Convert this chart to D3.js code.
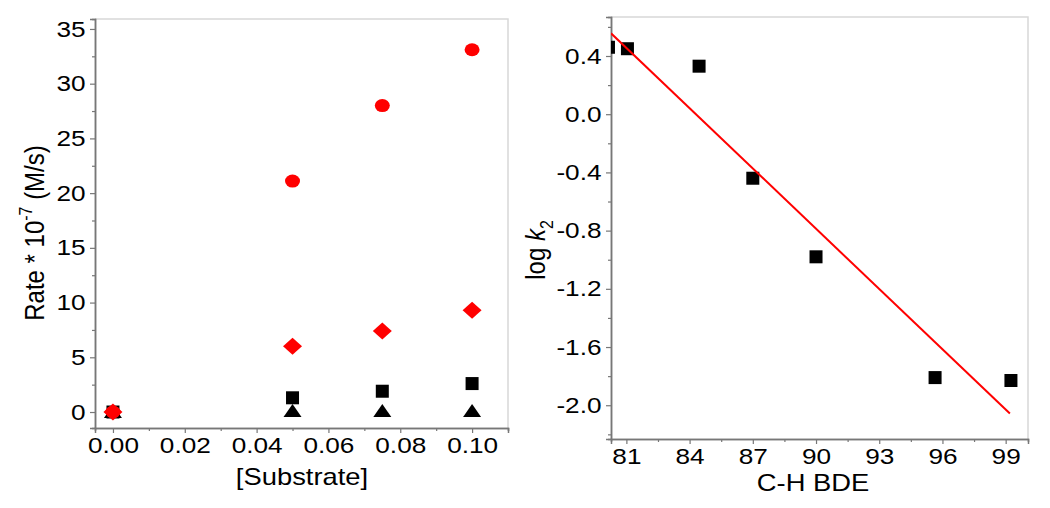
<!DOCTYPE html>
<html>
<head>
<meta charset="utf-8">
<script src="https://cdn.jsdelivr.net/npm/d3@7"></script>
<style>
  body { margin: 0; background: #fff; }
  svg { display: block; font-family: "Liberation Sans", Arial, sans-serif; }
  .tick-label { font-size: 22px; fill: #000; }
  .title { font-size: 23px; fill: #000; }
</style>
</head>
<body>
<div id="chart"></div>
<script>
// Left panel: rate vs [Substrate]
const substrate = [0, 0.05, 0.075, 0.10];
const rateCircle = [0, 21.1, 28.0, 33.1];
const rateDiamond = [0, 6.0, 7.4, 9.3];
const rateSquare = [0, 1.3, 1.9, 2.6];
const rateTriangle = [0, 0.1, 0.1, 0.1];
const leftXTicks = [0, 0.02, 0.04, 0.06, 0.08, 0.10];
const leftYTicks = [0, 5, 10, 15, 20, 25, 30, 35];

// Right panel: log k2 vs C-H BDE
const bde = [80.15, 81.05, 84.45, 87.0, 90.0, 95.65, 99.25];
const logK2 = [0.46, 0.45, 0.33, -0.44, -0.98, -1.81, -1.83];
const fitBde = [80.27, 99.2];
const fitLogK = [0.556, -2.057];
const rightXTicks = [81, 84, 87, 90, 93, 96, 99];
const rightYTicks = [0.4, 0.0, -0.4, -0.8, -1.2, -1.6, -2.0];

const width = 1050, height = 508;
const stretch = 1.19; // text in the picture is a bit wide

const svg = d3.select('#chart').append('svg')
    .attr('width', width)
    .attr('height', height);

// draws the frame, ticks and labels of a panel
function drawFrame(x, y, opts) {
    const [x0, x1] = x.range();
    const [y0, y1] = y.range(); // y0 bottom, y1 top
    const g = svg.append('g');

    // light top/right borders
    g.append('path')
        .attr('d', `M${x0},${y1}H${x1}V${y0}`)
        .attr('fill', 'none')
        .attr('stroke', '#d8d8d8')
        .attr('stroke-width', 1.5);

    const xAxis = d3.axisBottom(x).tickValues(opts.xTicks).tickSize(5).tickFormat(opts.xFormat).tickPadding(4);
    const xMinor = d3.axisBottom(x).tickValues(opts.xMinor).tickSize(3).tickFormat('');
    const yAxis = d3.axisLeft(y).tickValues(opts.yTicks).tickSize(5).tickFormat(opts.yFormat).tickPadding(3);
    const yMinor = d3.axisLeft(y).tickValues(opts.yMinor).tickSize(3).tickFormat('');

    [[xMinor, 'x'], [xAxis, 'x'], [yMinor, 'y'], [yAxis, 'y']].forEach(([ax, d]) => {
        const a = g.append('g')
            .attr('transform', d === 'x' ? `translate(0,${y0})` : `translate(${x0},0)`)
            .call(ax);
        a.select('.domain').attr('stroke', '#777').attr('stroke-width', 1.5);
        a.selectAll('.tick line').attr('stroke', '#777').attr('stroke-width', 1.2);
        a.selectAll('.tick text')
            .attr('class', 'tick-label')
            .attr('transform', `scale(${stretch},1)`)
            .style('font-family', '"Liberation Sans", Arial, sans-serif')
            .attr('fill', '#000');
    });
    return g;
}

// ---------- left panel ----------
const xL = d3.scaleLinear().domain([-0.005, 0.11]).range([95, 508]);
const yL = d3.scaleLinear().domain([-1.46, 35.91]).range([428, 19]);

drawFrame(xL, yL, {
    xTicks: leftXTicks,
    xMinor: d3.range(0.01, 0.111, 0.02),
    xFormat: d3.format('.2f'),
    yTicks: leftYTicks,
    yMinor: d3.range(2.5, 35, 5),
    yFormat: d3.format('d')
});

const left = svg.append('g');
const black = '#000', red = '#ff0000';

// triangles
left.selectAll('.tri').data(substrate).join('path')
    .attr('d', 'M0,-7L9,6L-9,6Z')
    .attr('transform', (d, i) => `translate(${xL(d)},${yL(rateTriangle[i])})`)
    .attr('fill', black);
// squares
left.selectAll('.sq').data(substrate).join('rect')
    .attr('x', d => xL(d) - 6.5)
    .attr('y', (d, i) => yL(rateSquare[i]) - 6.5)
    .attr('width', 13).attr('height', 13)
    .attr('fill', black);
// diamonds
left.selectAll('.dia').data(substrate).join('path')
    .attr('d', 'M0,-8.5L9.5,0L0,8.5L-9.5,0Z')
    .attr('transform', (d, i) => `translate(${xL(d)},${yL(rateDiamond[i])})`)
    .attr('fill', red);
// circles
left.selectAll('.circ').data(substrate).join('ellipse')
    .attr('cx', d => xL(d))
    .attr('cy', (d, i) => yL(rateCircle[i]))
    .attr('rx', 7.5).attr('ry', 6.5)
    .attr('fill', red);

// titles
svg.append('text')
    .attr('class', 'title')
    .attr('transform', `translate(302,485) scale(${stretch},1)`)
    .attr('text-anchor', 'middle')
    .text('[Substrate]');

const yTitleL = svg.append('text')
    .attr('class', 'title')
    .style('font-size', '24px')
    .attr('transform', `translate(44,233) scale(${stretch},1) rotate(-90)`)
    .attr('text-anchor', 'middle');
yTitleL.append('tspan').text('Rate * 10');
yTitleL.append('tspan').attr('dy', -10).attr('font-size', 16).text('-7');
yTitleL.append('tspan').attr('dy', 10).text(' (M/s)');

// ---------- right panel ----------
const xR = d3.scaleLinear().domain([80.27, 100.06]).range([611, 1028]);
const yR = d3.scaleLinear().domain([-2.232, 0.668]).range([439, 17]);

drawFrame(xR, yR, {
    xTicks: rightXTicks,
    xMinor: d3.range(82.5, 100, 3),
    xFormat: d3.format('d'),
    yTicks: rightYTicks,
    yMinor: d3.range(-2.2, 0.7, 0.4),
    yFormat: d => d3.format('.1f')(d).replace('−', '-')
});

svg.append('clipPath').attr('id', 'clipR')
    .append('rect')
    .attr('x', 611).attr('y', 17)
    .attr('width', 1028 - 611).attr('height', 439 - 17);

const right = svg.append('g').attr('clip-path', 'url(#clipR)');

right.selectAll('rect').data(bde).join('rect')
    .attr('x', d => xR(d) - 6.5)
    .attr('y', (d, i) => yR(logK2[i]) - 6.5)
    .attr('width', 13).attr('height', 13)
    .attr('fill', black);

right.append('path')
    .datum(fitBde.map((b, i) => [b, fitLogK[i]]))
    .attr('d', d3.line().x(d => xR(d[0])).y(d => yR(d[1])))
    .attr('fill', 'none')
    .attr('stroke', red)
    .attr('stroke-width', 2);

svg.append('text')
    .attr('class', 'title')
    .attr('transform', `translate(813,491) scale(${stretch},1)`)
    .attr('text-anchor', 'middle')
    .text('C-H BDE');

const yTitleR = svg.append('text')
    .attr('class', 'title')
    .style('font-size', '24px')
    .attr('transform', `translate(545,250) scale(${stretch},1) rotate(-90)`)
    .attr('text-anchor', 'middle');
yTitleR.append('tspan').text('log ');
yTitleR.append('tspan').attr('font-style', 'italic').text('k');
yTitleR.append('tspan').attr('dy', 7).attr('font-size', 16).text('2');
</script>
</body>
</html>
